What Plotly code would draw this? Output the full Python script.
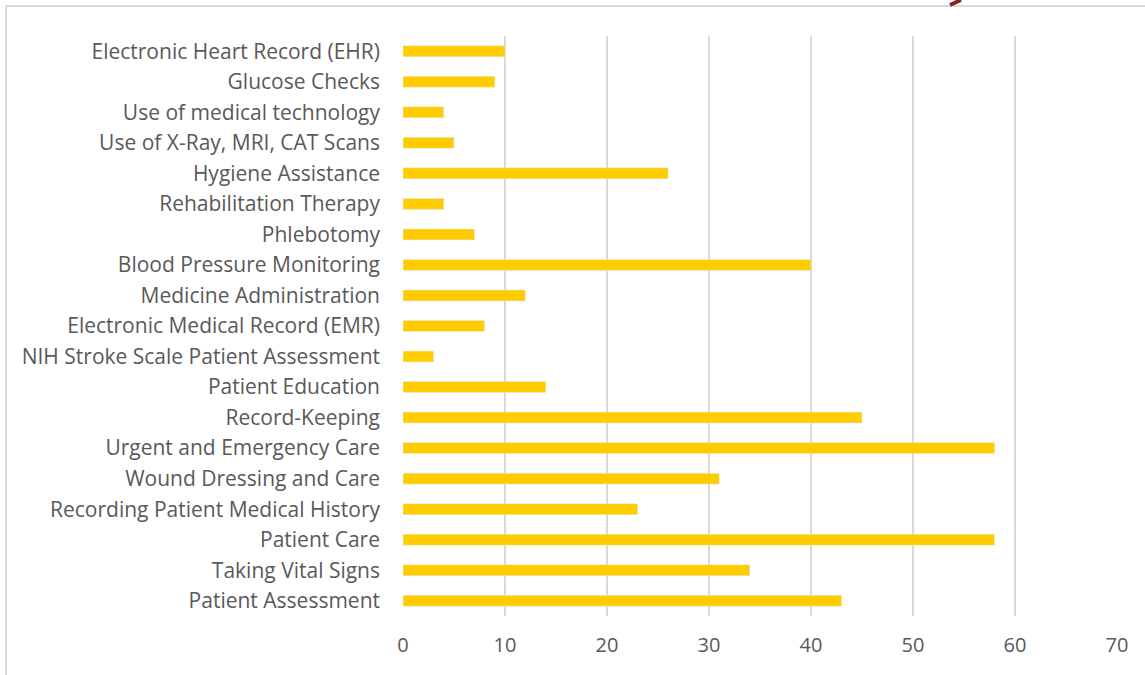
import plotly.graph_objects as go

categories = [
    "Patient Assessment",
    "Taking Vital Signs",
    "Patient Care",
    "Recording Patient Medical History",
    "Wound Dressing and Care",
    "Urgent and Emergency Care",
    "Record-Keeping",
    "Patient Education",
    "NIH Stroke Scale Patient Assessment",
    "Electronic Medical Record (EMR)",
    "Medicine Administration",
    "Blood Pressure Monitoring",
    "Phlebotomy",
    "Rehabilitation Therapy",
    "Hygiene Assistance",
    "Use of X-Ray, MRI, CAT Scans",
    "Use of medical technology",
    "Glucose Checks",
    "Electronic Heart Record (EHR)",
]
values = [43, 34, 58, 23, 31, 58, 45, 14, 3, 8, 12, 40, 7, 4, 26, 5, 4, 9, 10]
x_ticks = [0, 10, 20, 30, 40, 50, 60, 70]

W, H = 1145, 675
L, R, T, B = 403, 28, 36, 59
pw, ph = W - L - R, H - T - B

def px_x(x):
    return (x - L) / pw

def px_y(y):
    return (H - B - y) / ph

fig = go.Figure(go.Bar(
    x=values, y=categories, orientation="h",
    marker=dict(color="#FFCC00"),
    width=0.36,
))

fig.update_layout(
    width=W, height=H,
    margin=dict(l=L, r=R, t=T, b=B),
    plot_bgcolor="white", paper_bgcolor="white",
    font=dict(family="Open Sans, sans-serif", size=20, color="#595959"),
    showlegend=False,
    xaxis=dict(
        range=[0, 70], tickvals=x_ticks, showgrid=True,
        gridcolor="#d9d9d9", gridwidth=2, zeroline=False,
        showline=False, ticks="", ticklabelstandoff=15,
        tickfont=dict(size=20, color="#595959"),
    ),
    yaxis=dict(
        categoryorder="array", categoryarray=categories,
        range=[-0.5, len(categories) - 0.5],
        showgrid=False, zeroline=False, showline=False,
        ticks="", ticklabelstandoff=22,
        tickfont=dict(size=21, color="#595959"),
    ),
    shapes=[
        dict(type="line", xref="paper", yref="paper",
             x0=px_x(6), x1=px_x(6), y0=px_y(675), y1=px_y(6),
             line=dict(color="#d9d9d9", width=2)),
        dict(type="line", xref="paper", yref="paper",
             x0=px_x(6), x1=px_x(1145), y0=px_y(6), y1=px_y(6),
             line=dict(color="#d9d9d9", width=2)),
        dict(type="line", xref="paper", yref="paper",
             x0=px_x(950), x1=px_x(961), y0=px_y(5), y1=px_y(0),
             line=dict(color="#8B2323", width=4)),
    ],
)

fig.write_html(
    "out.html",
    config={"displayModeBar": False},
    post_script="document.body.style.margin='0';document.body.style.overflow='hidden';",
)
